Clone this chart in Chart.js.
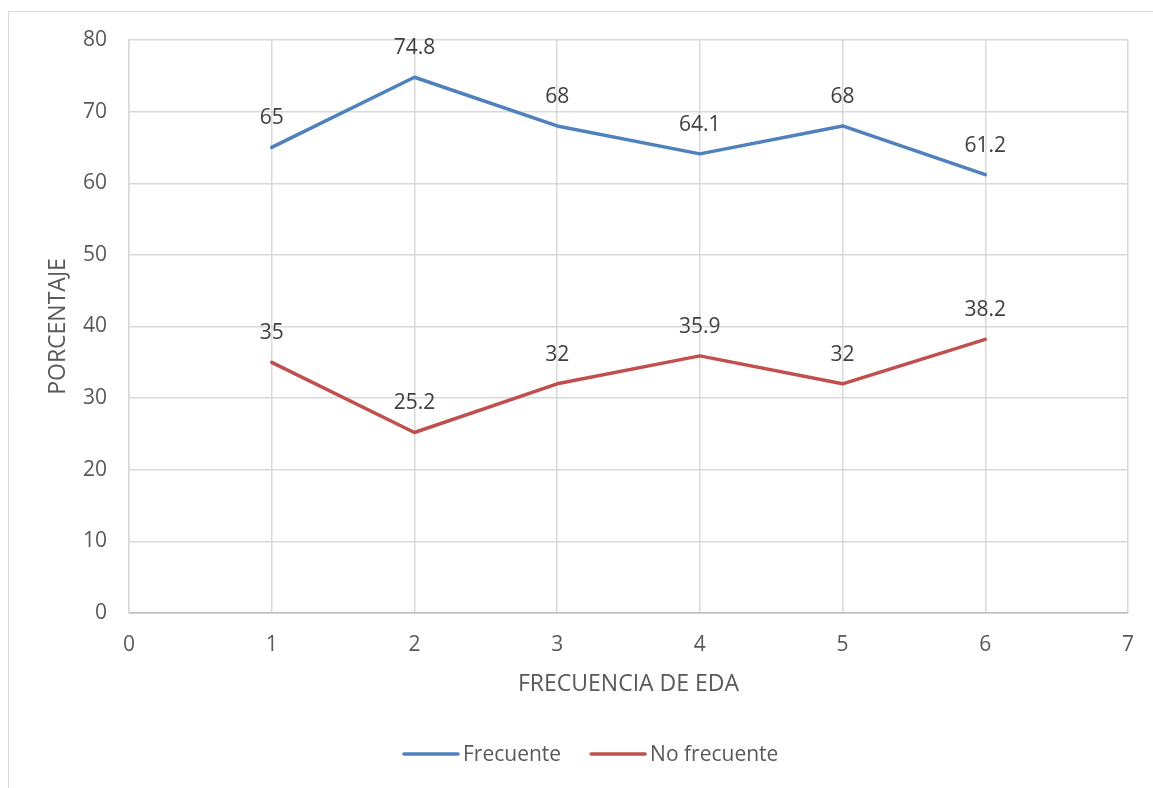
<!DOCTYPE html>
<html>
<head>
<meta charset="utf-8">
<script src="https://cdn.jsdelivr.net/npm/chart.js@4.4.1/dist/chart.umd.min.js"></script>
<style>
  html, body { margin: 0; padding: 0; background: #ffffff; overflow: hidden; }
  #wrap { position: relative; width: 1153px; height: 788px; }
</style>
</head>
<body>
<div id="wrap"><canvas id="c" width="1153" height="788"></canvas></div>
<script>
// Frecuencia de EDA vs. porcentaje
const frecuencia = [1, 2, 3, 4, 5, 6];
const frecuente = [65, 74.8, 68, 64.1, 68, 61.2];
const noFrecuente = [35, 25.2, 32, 35.9, 32, 38.2];
const seriesNames = ['Frecuente', 'No frecuente'];
const xTitle = 'FRECUENCIA DE EDA';
const yTitle = 'PORCENTAJE';

const FONT = "'Open Sans', 'DejaVu Sans', sans-serif";
const BLUE = '#4F81BD';
const RED = '#C0504D';

const toPoints = (xs, ys) => xs.map((x, i) => ({ x: x, y: ys[i] }));

// light frame around the whole chart
const framePlugin = {
  id: 'frame',
  beforeDraw(chart) {
    const ctx = chart.ctx;
    ctx.save();
    ctx.strokeStyle = '#d9d9d9';
    ctx.lineWidth = 1;
    ctx.beginPath();
    ctx.moveTo(8.5, chart.height);
    ctx.lineTo(8.5, 11.5);
    ctx.lineTo(chart.width, 11.5);
    ctx.stroke();
    ctx.restore();
  }
};

// value labels above every point
const valueLabels = {
  id: 'valueLabels',
  afterDatasetsDraw(chart) {
    const ctx = chart.ctx;
    ctx.save();
    ctx.font = '21px ' + FONT;
    ctx.fillStyle = '#404040';
    ctx.textAlign = 'center';
    ctx.textBaseline = 'middle';
    chart.data.datasets.forEach((ds, di) => {
      const meta = chart.getDatasetMeta(di);
      meta.data.forEach((el, i) => {
        ctx.fillText(String(ds.data[i].y), el.x, el.y - 29);
      });
    });
    ctx.restore();
  }
};

// legend row under the x axis title
const legendRow = {
  id: 'legendRow',
  afterDraw(chart) {
    const ctx = chart.ctx;
    ctx.save();
    ctx.font = '21px ' + FONT;
    ctx.textBaseline = 'middle';
    ctx.textAlign = 'left';
    const y = 754;
    let x = 404;
    chart.data.datasets.forEach((ds) => {
      ctx.strokeStyle = ds.borderColor;
      ctx.lineWidth = 3.5;
      ctx.lineCap = 'round';
      ctx.beginPath();
      ctx.moveTo(x, y);
      ctx.lineTo(x + 54, y);
      ctx.stroke();
      ctx.fillStyle = '#595959';
      ctx.fillText(ds.label, x + 59, y + 1);
      x += 59 + ctx.measureText(ds.label).width + 30;
    });
    ctx.restore();
  }
};

new Chart(document.getElementById('c'), {
  type: 'scatter',
  data: {
    datasets: [
      {
        label: seriesNames[0],
        data: toPoints(frecuencia, frecuente),
        borderColor: BLUE,
        backgroundColor: BLUE,
        borderWidth: 3.5,
        showLine: true,
        pointRadius: 0,
        pointHoverRadius: 0,
        borderCapStyle: 'round',
        borderJoinStyle: 'round'
      },
      {
        label: seriesNames[1],
        data: toPoints(frecuencia, noFrecuente),
        borderColor: RED,
        backgroundColor: RED,
        borderWidth: 3.5,
        showLine: true,
        pointRadius: 0,
        pointHoverRadius: 0,
        borderCapStyle: 'round',
        borderJoinStyle: 'round'
      }
    ]
  },
  options: {
    responsive: false,
    animation: false,
    events: [],
    layout: { padding: { left: 0, top: 40, right: 24, bottom: 88 } },
    plugins: {
      legend: { display: false },
      tooltip: { enabled: false }
    },
    scales: {
      x: {
        type: 'linear',
        min: 0,
        max: 7,
        afterFit(scale) { scale.height = 87; },
        ticks: {
          stepSize: 1,
          padding: 19,
          color: '#595959',
          font: { family: FONT, size: 21 }
        },
        grid: { color: '#d9d9d9', lineWidth: 1.5, drawTicks: false },
        border: { color: '#bfbfbf', width: 1.5 },
        title: {
          display: true,
          text: xTitle,
          color: '#595959',
          font: { family: FONT, size: 23 },
          padding: { top: 0, bottom: 2 }
        }
      },
      y: {
        min: 0,
        max: 80,
        afterFit(scale) { scale.width = 129; },
        ticks: {
          stepSize: 10,
          padding: 22,
          color: '#595959',
          font: { family: FONT, size: 21 }
        },
        grid: { color: '#d9d9d9', lineWidth: 1.5, drawTicks: false },
        border: { color: '#d9d9d9', width: 1.5 },
        title: {
          display: true,
          text: yTitle,
          color: '#595959',
          font: { family: FONT, size: 23 },
          padding: { top: 45, bottom: 0 }
        }
      }
    }
  },
  plugins: [framePlugin, valueLabels, legendRow]
});
</script>
</body>
</html>
